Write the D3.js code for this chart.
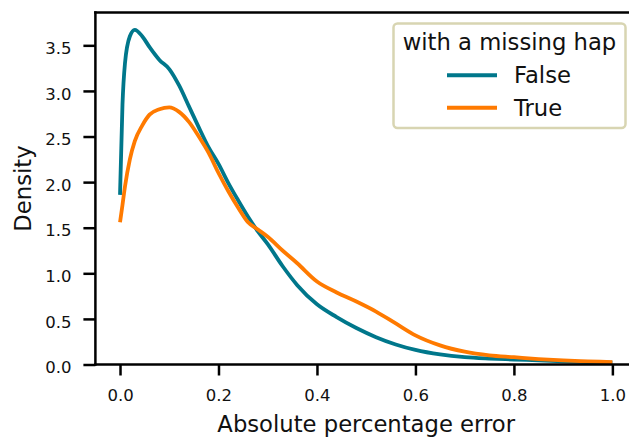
<!DOCTYPE html>
<html>
<head>
<meta charset="utf-8">
<script src="https://cdn.jsdelivr.net/npm/d3@7"></script>
<style>
  html, body { margin: 0; padding: 0; background: #fff; }
  svg { display: block; font-family: "DejaVu Sans", sans-serif; }
</style>
</head>
<body>
<svg id="chart" width="629" height="438"></svg>
<script>
// Kernel density estimates of the absolute percentage error, split by
// whether the sample has a missing haplotype.
const xGrid = [0, 0.005, 0.01, 0.02, 0.03, 0.045, 0.06, 0.08, 0.1, 0.12, 0.14, 0.16,
  0.18, 0.2, 0.22, 0.24, 0.26, 0.28, 0.3, 0.33, 0.36, 0.4, 0.44, 0.48, 0.52, 0.56,
  0.6, 0.65, 0.7, 0.75, 0.8, 0.85, 0.9, 0.95, 1.0];

const densityFalse = [1.86, 2.85, 3.30, 3.60, 3.67, 3.60, 3.48, 3.34, 3.24, 3.06, 2.83, 2.60,
  2.38, 2.20, 1.99, 1.80, 1.62, 1.46, 1.32, 1.08, 0.87, 0.66, 0.52, 0.40, 0.30, 0.22,
  0.16, 0.11, 0.08, 0.065, 0.055, 0.045, 0.035, 0.025, 0.02];

const densityTrue = [1.56, 1.75, 1.95, 2.25, 2.45, 2.62, 2.74, 2.80, 2.82, 2.77, 2.66, 2.50,
  2.32, 2.10, 1.90, 1.72, 1.56, 1.48, 1.40, 1.25, 1.11, 0.91, 0.79, 0.69, 0.58, 0.45,
  0.32, 0.21, 0.14, 0.10, 0.08, 0.06, 0.045, 0.035, 0.025];

const seriesNames = ["False", "True"];
const seriesColors = ["#00778b", "#ff7a00"];
const xTicks = [0, 0.2, 0.4, 0.6, 0.8, 1.0];
const yTicks = [0, 0.5, 1.0, 1.5, 2.0, 2.5, 3.0, 3.5];

const svg = d3.select("#chart");

const x = d3.scaleLinear().domain([-0.05, 1.05]).range([95.4, 637]);
const y = d3.scaleLinear().domain([0, 3.86]).range([364.5, 12.5]);

const series = [
  { name: seriesNames[0], color: seriesColors[0], values: densityFalse },
  { name: seriesNames[1], color: seriesColors[1], values: densityTrue }
];

const line = d3.line()
  .x((d, i) => x(xGrid[i]))
  .y(d => y(d))
  .curve(d3.curveMonotoneX);

// density curves
svg.append("g")
  .selectAll("path")
  .data(series)
  .join("path")
  .attr("fill", "none")
  .attr("stroke", d => d.color)
  .attr("stroke-width", 3.8)
  .attr("stroke-linejoin", "round")
  .attr("d", d => line(d.values));

// axes
const xAxis = svg.append("g")
  .attr("transform", `translate(0,${y(0)})`)
  .call(d3.axisBottom(x).tickValues(xTicks).tickFormat(d3.format(".1f"))
    .tickSizeInner(11).tickSizeOuter(0).tickPadding(13.5));

const yAxis = svg.append("g")
  .attr("transform", `translate(${x(-0.05)},0)`)
  .call(d3.axisLeft(y).tickValues(yTicks).tickFormat(d3.format(".1f"))
    .tickSizeInner(12).tickSizeOuter(0).tickPadding(12));

[xAxis, yAxis].forEach(g => {
  g.select(".domain").remove();
  g.selectAll(".tick line").attr("stroke", "#000").attr("stroke-width", 2.5);
  g.selectAll(".tick text").attr("fill", "#111").style("font-size", "16.5px")
    .style("font-family", "DejaVu Sans");
});
yAxis.selectAll(".tick text").attr("dy", "0.5em");

// spines: left, bottom, top (the right one lies beyond the canvas)
const [x0, x1] = x.range();
const [yb, yt] = y.range();
const spines = svg.append("g").attr("stroke", "#000").attr("stroke-width", 2.5)
  .attr("stroke-linecap", "square");
spines.append("line").attr("x1", x0).attr("x2", x0).attr("y1", yt).attr("y2", yb);
spines.append("line").attr("x1", x0).attr("x2", x1).attr("y1", yb).attr("y2", yb);
spines.append("line").attr("x1", x0).attr("x2", x1).attr("y1", yt).attr("y2", yt);
spines.append("line").attr("x1", x1).attr("x2", x1).attr("y1", yt).attr("y2", yb);

// axis labels
svg.append("text")
  .attr("x", (x0 + x1) / 2).attr("y", 432)
  .attr("text-anchor", "middle")
  .style("font-size", "22.7px").attr("fill", "#111")
  .text("Absolute percentage error");

svg.append("text")
  .attr("transform", `translate(31,${(yt + yb) / 2}) rotate(-90)`)
  .attr("text-anchor", "middle")
  .style("font-size", "22.7px").attr("fill", "#111")
  .text("Density");

// legend
const legend = svg.append("g");
legend.append("rect")
  .attr("x", 393.5).attr("y", 23.5).attr("width", 232).attr("height", 104.5)
  .attr("rx", 4).attr("ry", 4)
  .attr("fill", "#fff").attr("fill-opacity", 0.85)
  .attr("stroke", "#d8d5b2").attr("stroke-width", 2.5);

legend.append("text")
  .attr("x", 509.5).attr("y", 50)
  .attr("text-anchor", "middle")
  .style("font-size", "22.7px").attr("fill", "#111")
  .text("with a missing hap");

const items = legend.selectAll("g.item")
  .data(series)
  .join("g")
  .attr("class", "item")
  .attr("transform", (d, i) => `translate(0,${75.3 + i * 32.4})`);

items.append("line")
  .attr("x1", 447).attr("x2", 497)
  .attr("stroke", d => d.color).attr("stroke-width", 4);

items.append("text")
  .attr("x", 514).attr("y", 8)
  .style("font-size", "22.7px").attr("fill", "#111")
  .text(d => d.name);
</script>
</body>
</html>
